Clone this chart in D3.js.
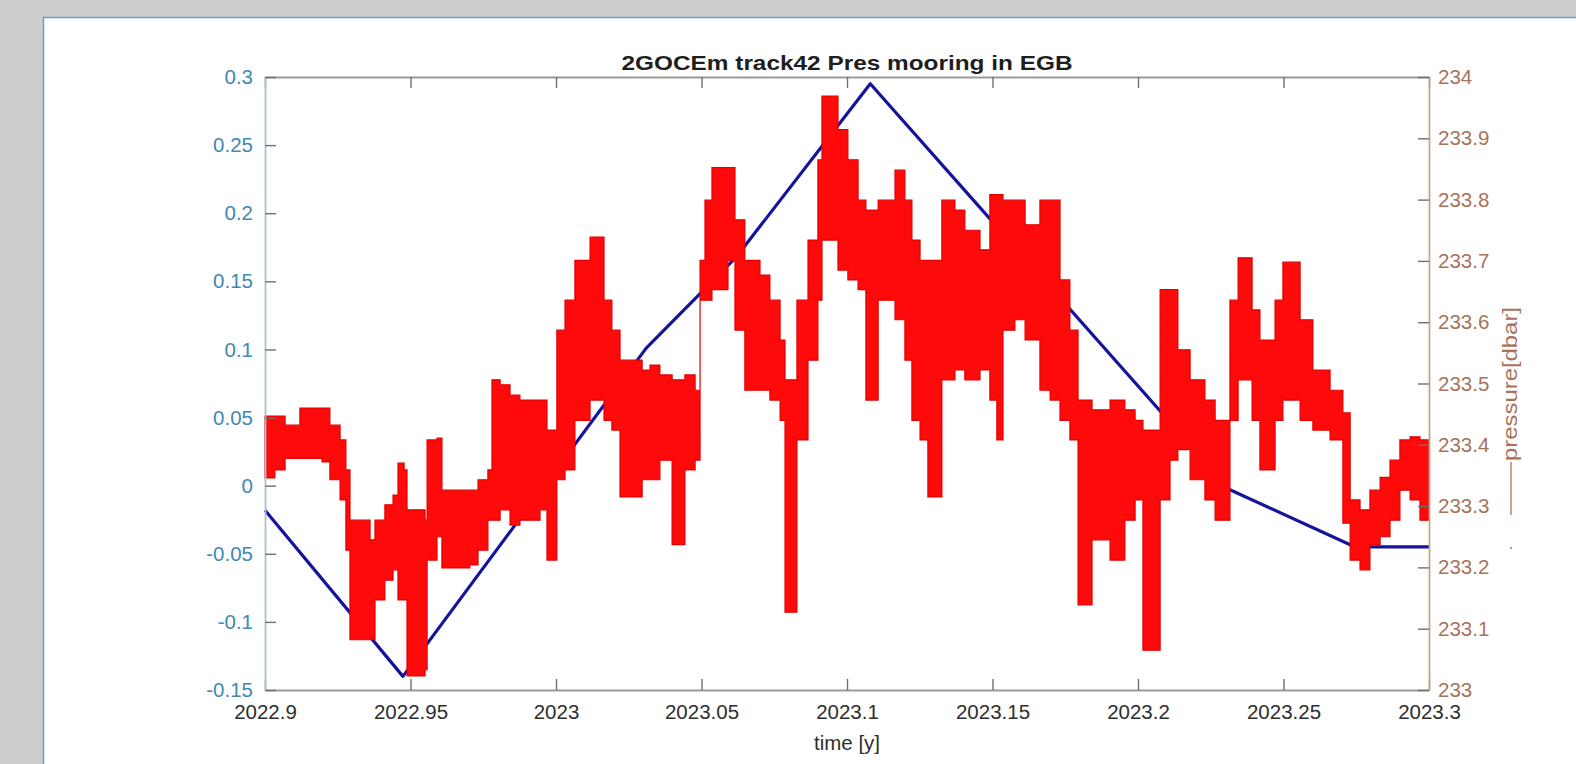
<!DOCTYPE html>
<html>
<head>
<meta charset="utf-8">
<script src="https://cdn.jsdelivr.net/npm/d3@7"></script>
<style>
  html, body { margin: 0; padding: 0; background: #cdcdcd; }
  svg { display: block; }
  text { font-family: "Liberation Sans", Arial, Helvetica, sans-serif; }
</style>
</head>
<body>
<svg id="chart" width="1576" height="764"></svg>
<script>
// ---- data -------------------------------------------------------------
// along-track sea-level anomaly from the GOCE-based product (left axis, m)
const trackTime  = [2022.9, 2022.9474, 2023.031, 2023.062, 2023.108, 2023.2316, 2023.2746, 2023.3];
const trackValue = [-0.018, -0.140, 0.101, 0.168, 0.295, -0.003, -0.045, -0.045];

// bottom pressure at the mooring (right axis, dbar): running high / low envelope
const presTime = [
  2022.9000, 2022.9034, 2022.9069, 2022.9093, 2022.9120, 2022.9196, 2022.9223, 2022.9258,
  2022.9278, 2022.9292, 2022.9361, 2022.9378, 2022.9412, 2022.9440, 2022.9457, 2022.9478,
  2022.9488, 2022.9550, 2022.9557, 2022.9591, 2022.9608, 2022.9704, 2022.9732, 2022.9766,
  2022.9780, 2022.9808, 2022.9842, 2022.9876, 2022.9945, 2022.9969, 2022.9990, 2023.0003,
  2023.0031, 2023.0065, 2023.0117, 2023.0144, 2023.0165, 2023.0192, 2023.0220, 2023.0271,
  2023.0296, 2023.0323, 2023.0357, 2023.0399, 2023.0426, 2023.0443, 2023.0478, 2023.0495,
  2023.0512, 2023.0536, 2023.0591, 2023.0615, 2023.0649, 2023.0701, 2023.0735, 2023.0770,
  2023.0787, 2023.0814, 2023.0828, 2023.0866, 2023.0900, 2023.0914, 2023.0948, 2023.0969,
  2023.1003, 2023.1038, 2023.1065, 2023.1086, 2023.1107, 2023.1165, 2023.1199, 2023.1223,
  2023.1251, 2023.1278, 2023.1302, 2023.1326, 2023.1371, 2023.1405, 2023.1457, 2023.1491,
  2023.1515, 2023.1536, 2023.1577, 2023.1612, 2023.1663, 2023.1698, 2023.1732, 2023.1766,
  2023.1794, 2023.1818, 2023.1842, 2023.1904, 2023.1955, 2023.1990, 2023.2017, 2023.2048,
  2023.2076, 2023.2110, 2023.2137, 2023.2179, 2023.2230, 2023.2265, 2023.2289, 2023.2316,
  2023.2344, 2023.2368, 2023.2392, 2023.2419, 2023.2447, 2023.2471, 2023.2498, 2023.2522,
  2023.2557, 2023.2601, 2023.2660, 2023.2704, 2023.2729, 2023.2763, 2023.2797, 2023.2832,
  2023.2866, 2023.2900, 2023.2935, 2023.2969, 2023.3000];
const presHigh = [
  233.447, 233.447, 233.432, 233.432, 233.460, 233.460, 233.432, 233.408,
  233.359, 233.277, 233.245, 233.277, 233.302, 233.318, 233.370, 233.359,
  233.294, 233.277, 233.408, 233.411, 233.326, 233.326, 233.343, 233.359,
  233.506, 233.498, 233.481, 233.473, 233.473, 233.424, 233.424, 233.587,
  233.636, 233.701, 233.739, 233.739, 233.636, 233.587, 233.538, 233.538,
  233.522, 233.530, 233.514, 233.506, 233.506, 233.514, 233.489, 233.701,
  233.799, 233.852, 233.852, 233.767, 233.701, 233.677, 233.636, 233.571,
  233.506, 233.506, 233.636, 233.734, 233.865, 233.969, 233.969, 233.914,
  233.865, 233.799, 233.783, 233.783, 233.799, 233.848, 233.799, 233.734,
  233.701, 233.701, 233.701, 233.799, 233.783, 233.750, 233.718, 233.808,
  233.808, 233.799, 233.799, 233.759, 233.799, 233.799, 233.669, 233.587,
  233.473, 233.473, 233.457, 233.473, 233.457, 233.440, 233.424, 233.424,
  233.653, 233.653, 233.555, 233.506, 233.473, 233.440, 233.440, 233.636,
  233.705, 233.705, 233.620, 233.571, 233.571, 233.636, 233.698, 233.698,
  233.604, 233.522, 233.489, 233.452, 233.310, 233.294, 233.326, 233.347,
  233.375, 233.408, 233.413, 233.408, 233.400];
const presLow = [
  233.346, 233.359, 233.378, 233.378, 233.378, 233.372, 233.343, 233.310,
  233.228, 233.082, 233.082, 233.147, 233.179, 233.196, 233.147, 233.147,
  233.023, 233.033, 233.212, 233.250, 233.199, 233.204, 233.228, 233.277,
  233.277, 233.294, 233.269, 233.277, 233.294, 233.212, 233.212, 233.343,
  233.359, 233.440, 233.473, 233.473, 233.440, 233.424, 233.315, 233.315,
  233.343, 233.343, 233.375, 233.237, 233.237, 233.359, 233.375, 233.636,
  233.636, 233.653, 233.701, 233.587, 233.489, 233.489, 233.473, 233.440,
  233.127, 233.127, 233.408, 233.538, 233.636, 233.734, 233.734, 233.685,
  233.669, 233.653, 233.473, 233.473, 233.636, 233.604, 233.538, 233.440,
  233.408, 233.315, 233.315, 233.506, 233.522, 233.506, 233.522, 233.473,
  233.408, 233.587, 233.604, 233.571, 233.489, 233.473, 233.440, 233.408,
  233.139, 233.139, 233.245, 233.212, 233.277, 233.310, 233.065, 233.065,
  233.310, 233.375, 233.392, 233.343, 233.310, 233.277, 233.277, 233.440,
  233.506, 233.506, 233.440, 233.359, 233.359, 233.440, 233.473, 233.473,
  233.440, 233.424, 233.408, 233.272, 233.212, 233.196, 233.237, 233.250,
  233.277, 233.326, 233.310, 233.277, 233.277];

const xTicks  = [2022.9, 2022.95, 2023, 2023.05, 2023.1, 2023.15, 2023.2, 2023.25, 2023.3];
const xLabels = ["2022.9", "2022.95", "2023", "2023.05", "2023.1", "2023.15", "2023.2", "2023.25", "2023.3"];
const yLeftTicks  = [-0.15, -0.1, -0.05, 0, 0.05, 0.1, 0.15, 0.2, 0.25, 0.3];
const yLeftLabels = ["-0.15", "-0.1", "-0.05", "0", "0.05", "0.1", "0.15", "0.2", "0.25", "0.3"];
const yRightTicks  = [233, 233.1, 233.2, 233.3, 233.4, 233.5, 233.6, 233.7, 233.8, 233.9, 234];
const yRightLabels = ["233", "233.1", "233.2", "233.3", "233.4", "233.5", "233.6", "233.7", "233.8", "233.9", "234"];

const titleText = "2GOCEm track42 Pres mooring in EGB";
const xTitle = "time [y]";
const yRightTitle = "pressure[dbar]";

// ---- layout -----------------------------------------------------------
const W = 1576, H = 764;
const box = { left: 265, right: 1429, top: 77, bottom: 690 };
const leftColor = "#4288b2";
const rightColor = "#a8735a";

const svg = d3.select("#chart");

// figure panel
svg.append("rect").attr("x", 0).attr("y", 0).attr("width", W).attr("height", H).attr("fill", "#cdcdcd");
svg.append("rect").attr("x", 43.5).attr("y", 17.5).attr("width", W).attr("height", H)
  .attr("fill", "#ffffff").attr("stroke", "#5f9fd2").attr("stroke-width", 1.5);

const x = d3.scaleLinear().domain([2022.9, 2023.3]).range([box.left, box.right]);
const yL = d3.scaleLinear().domain([-0.15, 0.3]).range([box.bottom, box.top]);
const yR = d3.scaleLinear().domain([233, 234]).range([box.bottom, box.top]);

// ---- series -----------------------------------------------------------
const track = trackTime.map((t, i) => ({ t, v: trackValue[i] }));
svg.append("path")
  .datum(track)
  .attr("fill", "none")
  .attr("stroke", "#15129c")
  .attr("stroke-width", 3.2)
  .attr("stroke-linejoin", "round")
  .attr("d", d3.line().x(d => x(d.t)).y(d => yL(d.v)));

const pres = presTime.map((t, i) => ({ t, lo: presLow[i], hi: presHigh[i] }));
svg.append("path")
  .datum(pres)
  .attr("fill", "#ff0a0a")
  .attr("stroke", "#e20000")
  .attr("stroke-width", 1.2)
  .attr("stroke-linejoin", "miter")
  .attr("d", d3.area().curve(d3.curveStepAfter)
    .x(d => x(d.t)).y0(d => yR(d.lo)).y1(d => yR(d.hi)));

// ---- axes -------------------------------------------------------------
const tickLen = 11;

function styleAxis(g, lineColor, textColor) {
  g.select(".domain").attr("stroke", lineColor).attr("stroke-width", 1.8);
  g.selectAll(".tick line").attr("stroke", "#6f6f6f").attr("stroke-width", 1.4);
  g.selectAll(".tick text").attr("fill", textColor)
    .style("font-size", "20.5px").style("font-family", "'Liberation Sans', Arial, sans-serif");
}

const gBottom = svg.append("g").attr("transform", `translate(0,${box.bottom})`)
  .call(d3.axisBottom(x).tickValues(xTicks).tickFormat((d, i) => xLabels[i])
    .tickSizeInner(-tickLen).tickSizeOuter(0).tickPadding(14));
styleAxis(gBottom, "#9a9a9a", "#2e2e2e");

const gTop = svg.append("g").attr("transform", `translate(0,${box.top})`)
  .call(d3.axisTop(x).tickValues(xTicks).tickFormat(() => "")
    .tickSizeInner(-tickLen).tickSizeOuter(0));
styleAxis(gTop, "#9a9a9a", "#2e2e2e");

const gLeft = svg.append("g").attr("transform", `translate(${box.left},0)`)
  .call(d3.axisLeft(yL).tickValues(yLeftTicks).tickFormat((d, i) => yLeftLabels[i])
    .tickSizeInner(-tickLen).tickSizeOuter(0).tickPadding(12));
styleAxis(gLeft, "#a9c3d3", leftColor);

const gRight = svg.append("g").attr("transform", `translate(${box.right},0)`)
  .call(d3.axisRight(yR).tickValues(yRightTicks).tickFormat((d, i) => yRightLabels[i])
    .tickSizeInner(-tickLen).tickSizeOuter(0).tickPadding(9));
styleAxis(gRight, "#c9a58c", rightColor);

// ---- titles -----------------------------------------------------------
svg.append("text")
  .attr("x", (box.left + box.right) / 2).attr("y", 70)
  .attr("text-anchor", "middle")
  .attr("textLength", 451).attr("lengthAdjust", "spacingAndGlyphs")
  .style("font-size", "21px").style("font-weight", "bold").attr("fill", "#1e1e1e")
  .text(titleText);

svg.append("text")
  .attr("x", (box.left + box.right) / 2).attr("y", 750)
  .attr("text-anchor", "middle")
  .style("font-size", "20.5px").attr("fill", "#2e2e2e")
  .text(xTitle);

svg.append("text")
  .attr("transform", "translate(1517,384) rotate(-90)")
  .attr("text-anchor", "middle")
  .attr("textLength", 154).attr("lengthAdjust", "spacingAndGlyphs")
  .style("font-size", "20px").attr("fill", rightColor)
  .text(yRightTitle);

svg.append("line")
  .attr("x1", 1511).attr("x2", 1511).attr("y1", 462).attr("y2", 515)
  .attr("stroke", rightColor).attr("stroke-width", 1.3);
svg.append("circle").attr("cx", 1511).attr("cy", 548).attr("r", 1).attr("fill", rightColor);
</script>
</body>
</html>
